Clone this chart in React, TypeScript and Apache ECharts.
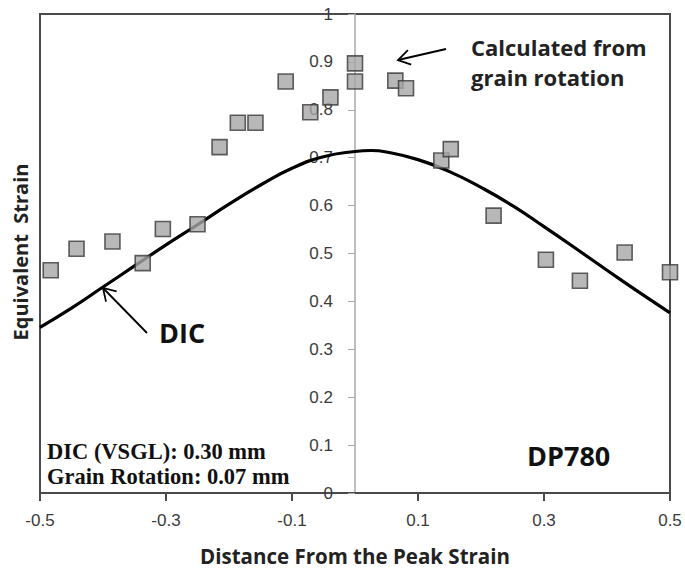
import React, { useEffect, useRef } from "react";
import * as echarts from "echarts";

// Grain-rotation measurements (squares)
const grainX = [-0.483, -0.442, -0.385, -0.337, -0.305, -0.25, -0.215, -0.186, -0.158, -0.11, -0.071, -0.039, 0.0, 0.0, 0.064, 0.081, 0.137, 0.152, 0.22, 0.303, 0.357, 0.428, 0.5];
const grainY = [0.465, 0.51, 0.525, 0.48, 0.551, 0.561, 0.722, 0.773, 0.773, 0.859, 0.795, 0.826, 0.897, 0.859, 0.861, 0.845, 0.694, 0.718, 0.579, 0.487, 0.443, 0.502, 0.461];

// DIC curve
const dicX = [-0.5, -0.45, -0.4, -0.35, -0.3, -0.25, -0.2, -0.15, -0.1, -0.05, 0.0, 0.025, 0.05, 0.1, 0.15, 0.2, 0.25, 0.3, 0.35, 0.4, 0.45, 0.5];
const dicY = [0.346, 0.386, 0.43, 0.474, 0.518, 0.56, 0.603, 0.643, 0.678, 0.702, 0.713, 0.715, 0.712, 0.696, 0.671, 0.638, 0.6, 0.556, 0.511, 0.465, 0.42, 0.376];

const xMin = -0.5;
const xMax = 0.5;
const xStep = 0.2;
const yMin = 0;
const yMax = 1;
const yStep = 0.1;
const yAxisCross = 0; // y axis crosses the x axis at x = 0

const xTitle = "Distance From the Peak Strain";
const yTitle = "Equivalent  Strain";
const noteGrain = ["Calculated from", "grain rotation"];
const noteDic = "DIC";
const noteLengths = ["DIC (VSGL): 0.30 mm", "Grain Rotation: 0.07 mm"];
const noteMaterial = "DP780";

function arrowHead(tip: number[], tail: number[], len: number, angDeg: number) {
  const dx = tail[0] - tip[0];
  const dy = tail[1] - tip[1];
  const a = Math.atan2(dy, dx);
  const t = (angDeg * Math.PI) / 180;
  return [
    [tip[0] + len * Math.cos(a + t), tip[1] + len * Math.sin(a + t)],
    [tip[0], tip[1]],
    [tip[0] + len * Math.cos(a - t), tip[1] + len * Math.sin(a - t)],
  ];
}

export default function App() {
  const ref = useRef<HTMLDivElement>(null);
  useEffect(() => {
    if (!ref.current) return;
    const chart = echarts.init(ref.current, undefined, { renderer: "svg" });
    const tickFont = "'Liberation Sans Narrow', 'Liberation Sans', Arial, sans-serif";
    const boldFont = "'Open Sans', Lato, sans-serif";
    const serifFont = "'Liberation Serif', 'DejaVu Serif', serif";

    const W = 685;
    const gridLeft = 40;
    const gridRight = 15;
    const gridWidth = W - gridLeft - gridRight;
    const yOffset = -(gridWidth * (yAxisCross - xMin)) / (xMax - xMin);

    const arrow1Tip = [398, 60];
    const arrow1Tail = [446, 49];
    const arrow2Tip = [103, 288];
    const arrow2Tail = [147, 333];

    chart.setOption({
      animation: false,
      backgroundColor: "#ffffff",
      grid: {
        left: gridLeft,
        right: gridRight,
        top: 14,
        bottom: 75,
        containLabel: false,
        outerBoundsMode: "none",
        show: true,
        borderColor: "#4a4a4a",
        borderWidth: 2,
        backgroundColor: "transparent",
      },
      xAxis: {
        type: "value",
        min: xMin,
        max: xMax,
        interval: xStep,
        name: xTitle,
        nameLocation: "middle",
        nameGap: 52,
        nameTextStyle: { fontFamily: boldFont, fontWeight: "bold", fontSize: 20.5, color: "#222" },
        axisLine: { onZero: false, lineStyle: { color: "#4a4a4a", width: 2 } },
        axisTick: { show: true, inside: false, length: 8, lineStyle: { color: "#4a4a4a", width: 2 } },
        axisLabel: {
          fontFamily: tickFont,
          fontSize: 17,
          color: "#3a3a3a",
          margin: 19,
          formatter: (v: number) => v.toFixed(1),
        },
        splitLine: { show: false },
      },
      yAxis: {
        type: "value",
        min: yMin,
        max: yMax,
        interval: yStep,
        position: "left",
        offset: yOffset,
        axisLine: { onZero: false, lineStyle: { color: "#a8a8a8", width: 1.5 } },
        axisTick: { show: true, inside: false, length: 7, lineStyle: { color: "#a8a8a8", width: 1 } },
        axisLabel: {
          fontFamily: tickFont,
          fontSize: 17,
          color: "#3a3a3a",
          margin: 22,
          formatter: (v: number) => (Math.abs(v - Math.round(v)) < 1e-9 ? String(Math.round(v)) : v.toFixed(1)),
        },
        splitLine: { show: false },
      },
      series: [
        {
          type: "line",
          name: "DIC",
          data: dicX.map((x, i) => [x, dicY[i]]),
          smooth: true,
          showSymbol: false,
          symbol: "none",
          lineStyle: { color: "#000", width: 3.2 },
          z: 2,
        },
        {
          type: "scatter",
          name: "Grain rotation",
          data: grainX.map((x, i) => [x, grainY[i]]),
          symbol: "rect",
          symbolSize: [15, 15],
          itemStyle: { color: "#a6a6a6", borderColor: "#3a3a3a", borderWidth: 1.6 },
          z: 3,
        },
      ],
      graphic: [
        {
          type: "text",
          x: 20,
          y: 252,
          rotation: Math.PI / 2,
          style: {
            text: yTitle,
            fontFamily: boldFont,
            fontWeight: "bold",
            fontSize: 20,
            fill: "#222",
            align: "center",
            verticalAlign: "middle",
          },
        },
        {
          type: "text",
          x: 471,
          y: 47,
          style: {
            text: noteGrain[0],
            fontFamily: boldFont,
            fontWeight: "bold",
            fontSize: 22,
            fill: "#222",
            align: "left",
            verticalAlign: "middle",
          },
        },
        {
          type: "text",
          x: 471,
          y: 77,
          style: {
            text: noteGrain[1],
            fontFamily: boldFont,
            fontWeight: "bold",
            fontSize: 22,
            fill: "#222",
            align: "left",
            verticalAlign: "middle",
          },
        },
        {
          type: "line",
          shape: { x1: arrow1Tail[0], y1: arrow1Tail[1], x2: arrow1Tip[0], y2: arrow1Tip[1] },
          style: { stroke: "#000", lineWidth: 1.8 },
        },
        {
          type: "polyline",
          shape: { points: arrowHead(arrow1Tip, arrow1Tail, 14, 32) },
          style: { stroke: "#000", lineWidth: 1.8, fill: null },
        },
        {
          type: "text",
          x: 159,
          y: 332,
          style: {
            text: noteDic,
            fontFamily: boldFont,
            fontWeight: "bold",
            fontSize: 27,
            fill: "#111",
            align: "left",
            verticalAlign: "middle",
          },
        },
        {
          type: "line",
          shape: { x1: arrow2Tail[0], y1: arrow2Tail[1], x2: arrow2Tip[0], y2: arrow2Tip[1] },
          style: { stroke: "#000", lineWidth: 1.8 },
        },
        {
          type: "polyline",
          shape: { points: arrowHead(arrow2Tip, arrow2Tail, 14, 32) },
          style: { stroke: "#000", lineWidth: 1.8, fill: null },
        },
        {
          type: "text",
          x: 47,
          y: 451,
          style: {
            text: noteLengths[0],
            fontFamily: serifFont,
            fontWeight: "bold",
            fontSize: 22.5,
            fill: "#111",
            align: "left",
            verticalAlign: "middle",
          },
        },
        {
          type: "text",
          x: 47,
          y: 476,
          style: {
            text: noteLengths[1],
            fontFamily: serifFont,
            fontWeight: "bold",
            fontSize: 22.5,
            fill: "#111",
            align: "left",
            verticalAlign: "middle",
          },
        },
        {
          type: "text",
          x: 527,
          y: 455,
          style: {
            text: noteMaterial,
            fontFamily: boldFont,
            fontWeight: "bold",
            fontSize: 27,
            fill: "#111",
            align: "left",
            verticalAlign: "middle",
          },
        },
      ],
    });
    return () => chart.dispose();
  }, []);
  return <div ref={ref} style={{ width: 685, height: 568, position: "absolute", left: 0, top: 0 }} />;
}
